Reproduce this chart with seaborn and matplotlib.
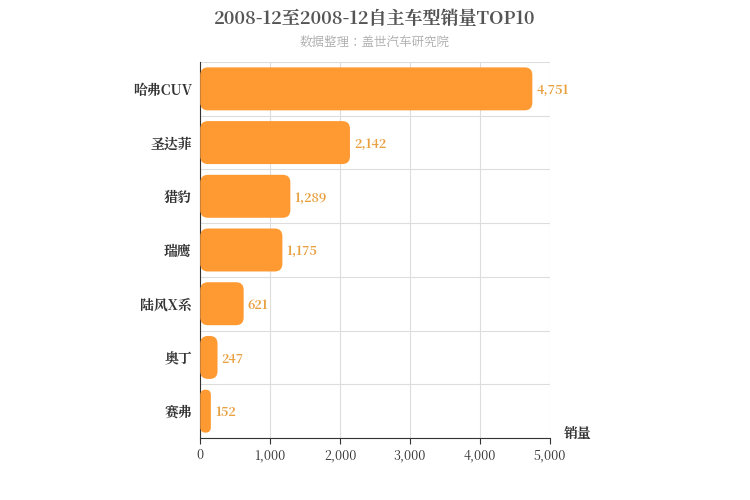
import matplotlib
matplotlib.use("Agg")
import matplotlib.pyplot as plt
import seaborn as sns
import pandas as pd
from matplotlib.patches import FancyBboxPatch
from matplotlib import font_manager as fm

cjk = [f.name for f in fm.fontManager.ttflist if "CJK" in f.name]
pref = [n for n in cjk if n.endswith("SC")] or cjk
plt.rcParams["font.family"] = "sans-serif"
plt.rcParams["font.sans-serif"] = (pref[:1] if pref else []) + ["DejaVu Sans"]

categories = ["哈弗CUV", "圣达菲", "猎豹", "瑞鹰", "陆风X系", "奥丁", "赛弗"]
values = [4751, 2142, 1289, 1175, 621, 247, 152]
xticks = [0, 1000, 2000, 3000, 4000, 5000]

df = pd.DataFrame({"cat": categories, "val": values})
fig = plt.figure(figsize=(7.5, 5), dpi=100)
ax = fig.add_axes([0.267, 0.124, 0.466, 0.752])
sns.barplot(data=df, y="cat", x="val", color="#FF9A33", width=0.8, ax=ax, saturation=1)
ax.set_xlim(0, 5000)
ax.set_ylim(len(categories) - 0.5, -0.5)

asp = (7 / 376) / (5000 / 350)
for p in list(ax.patches):
    x, y, w, h = p.get_x(), p.get_y(), p.get_width(), p.get_height()
    r = min(110, w / 2)
    fb = FancyBboxPatch((x, y), w, h, boxstyle=f"round,pad=0,rounding_size={r}",
                        mutation_aspect=asp, fc="#FF9A33", ec="none", zorder=3)
    p.remove()
    ax.add_patch(fb)

for i, v in enumerate(values):
    ax.text(v + 60, i + 0.03, f"{v:,}", va="center", ha="left", color="#E8A040",
            fontsize=9, fontweight="bold", zorder=4)

ax.set_xticks(xticks)
ax.set_xticklabels([f"{t:,}" for t in xticks], fontsize=9, color="#333333")
ax.set_yticks(range(len(categories)))
ax.set_yticklabels(categories, fontsize=10, fontweight="bold", color="#333333")
for yb in [i + 0.5 for i in range(-1, len(categories))]:
    ax.axhline(yb, color="#DDDDDD", lw=0.8, zorder=0)
ax.grid(axis="x", color="#DDDDDD", lw=0.8, zorder=0)
ax.set_axisbelow(True)
for s in ["top", "right"]:
    ax.spines[s].set_visible(False)
ax.spines["left"].set_color("#333333")
ax.spines["bottom"].set_color("#333333")
ax.tick_params(axis="y", length=0, pad=6)
ax.tick_params(axis="x", length=4, color="#333333")
ax.set_xlabel("")
ax.set_ylabel("")
ax.text(1.04, -0.01, "销量", transform=ax.transAxes, fontsize=10, color="#333333",
        ha="left", va="bottom", fontweight="bold")

fig.text(0.5, 0.962, "2008-12至2008-12自主车型销量TOP10", ha="center", va="center",
         fontsize=13, fontweight="bold", color="#555555")
fig.text(0.5, 0.915, "数据整理：盖世汽车研究院", ha="center", va="center",
         fontsize=9, color="#AAAAAA")
fig.savefig("out.png", dpi=100)
